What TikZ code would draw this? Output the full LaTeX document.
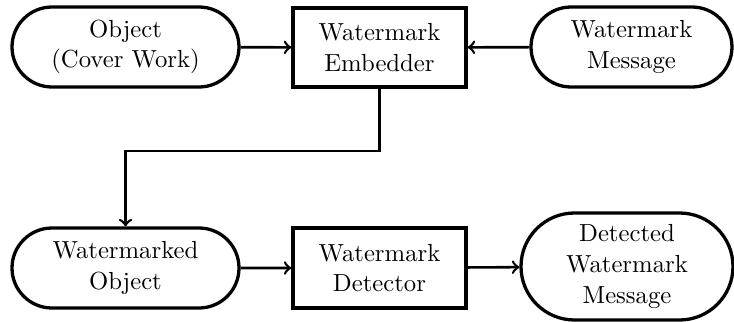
\documentclass[tikz,border=0pt]{standalone}
\usetikzlibrary{shapes.misc}
\begin{document}
\begin{tikzpicture}[x=0.425pt,y=-0.425pt,
  every node/.style={font=\fontsize{10.5}{13}\selectfont},
  box/.style={draw,line width=1.4pt,rectangle,align=center,inner sep=0pt},
  term/.style={draw,line width=1.4pt,rounded rectangle,align=center,inner sep=0pt},
  flow/.style={->,line width=1.1pt}]
\useasboundingbox (0,0) rectangle (734,322);
% top row
\node[term,minimum width=227*0.425pt,minimum height=80*0.425pt] (obj) at (125.5,47) {Object\\(Cover Work)};
\node[box,minimum width=173*0.425pt,minimum height=79*0.425pt] (emb) at (379.5,47.5) {Watermark\\Embedder};
\node[term,minimum width=201*0.425pt,minimum height=80*0.425pt] (msg) at (631.5,47) {Watermark\\Message};
% bottom row
\node[term,minimum width=227*0.425pt,minimum height=80*0.425pt] (wobj) at (125.5,268) {Watermarked\\Object};
\node[box,minimum width=173*0.425pt,minimum height=80*0.425pt] (det) at (379.5,268) {Watermark\\Detector};
\node[term,minimum width=212*0.425pt,minimum height=107*0.425pt] (dmsg) at (627,266.5) {Detected\\Watermark\\Message};
\coordinate (bend) at (379.5,151);
% connectors
\draw[flow] (obj) -- (emb);
\draw[flow] (msg) -- (emb);
\draw[flow] (emb.south) -- (emb.south |- bend) -| (wobj.north);
\draw[flow] (wobj) -- (det);
\draw[flow] (det) -- (dmsg);
\end{tikzpicture}
\end{document}
